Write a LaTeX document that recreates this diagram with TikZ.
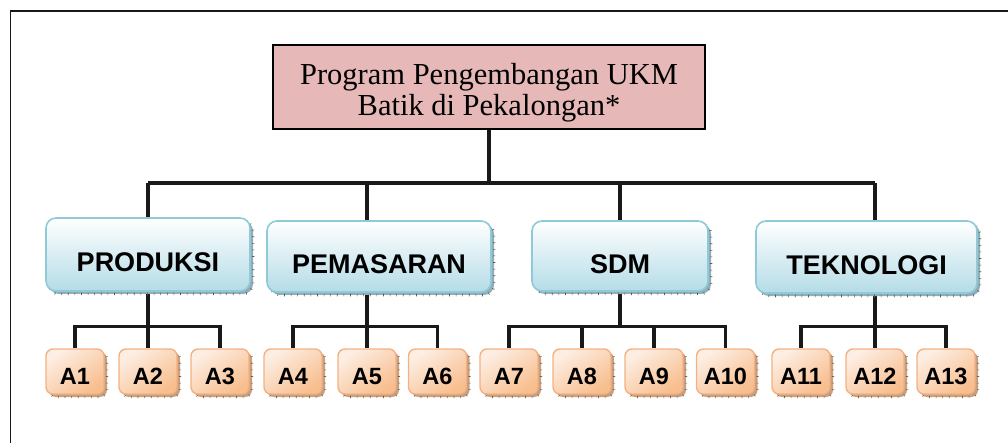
\documentclass[tikz,border=0pt]{standalone}
\usepackage{fontspec}
\setmainfont{Liberation Serif}
\setsansfont{Liberation Sans}
\usetikzlibrary{shadows,backgrounds}

\definecolor{headfill}{HTML}{E6B9B8}
\definecolor{bluebd}{HTML}{8FCAD9}
\definecolor{bluebot}{HTML}{B4DCE7}
\definecolor{blueshd}{HTML}{93ACB5}
\definecolor{orabd}{HTML}{F3B184}
\definecolor{oratop}{HTML}{FDEEE3}
\definecolor{orabot}{HTML}{F8BE8E}
\definecolor{orashd}{HTML}{C9A07E}

\tikzset{
  headbox/.style={draw=black, line width=1.8pt, fill=headfill, inner sep=0pt,
    minimum width=432pt, minimum height=84pt, align=center,
    font=\fontsize{30.5}{31}\selectfont},
  catbox/.style={rounded corners=10pt, draw=bluebd, line width=1.6pt,
    top color=white, bottom color=bluebot, inner sep=0pt,
    text height=35pt, text depth=0pt,
    general shadow={shadow xshift=3pt, shadow yshift=-3pt, fill=blueshd},
    general shadow={shadow xshift=3pt, shadow yshift=-3pt, draw=blueshd!55!black,
      line width=2.5pt, dash pattern=on 0.6pt off 6pt},
    font=\sffamily\bfseries\fontsize{27}{27}\selectfont},
  itembox/.style={rounded corners=7pt, draw=orabd, line width=1.4pt,
    top color=oratop, bottom color=orabot, shading angle=35, inner sep=0pt,
    minimum width=58pt, minimum height=45pt, text height=25pt, text depth=0pt,
    general shadow={shadow xshift=3pt, shadow yshift=-3pt, fill=orashd},
    general shadow={shadow xshift=3pt, shadow yshift=-3pt, draw=orashd!60!black,
      line width=2.2pt, dash pattern=on 0.6pt off 6pt},
    font=\sffamily\bfseries\fontsize{23.5}{23.5}\selectfont},
  conn/.style={draw=black!90, line width=3.2pt}
}

\begin{document}
\begin{tikzpicture}[x=1pt,y=-1pt]
\useasboundingbox (0,0) rectangle (1008,443);

% outer frame (only the top and left edges fall inside the page)
\draw[line width=1.8pt, black!90] (10.5,443) -- (10.5,11) -- (1008,11);

% root
\node[headbox] (top) at (489,87) {\rule{0pt}{33pt}Program Pengembangan UKM\\Batik di Pekalongan*};

% categories
\node[catbox, minimum width=204pt, minimum height=73pt] (prod) at (148,254.5) {PRODUKSI};
\node[catbox, minimum width=224pt, minimum height=71pt] (pem)  at (379,256.5) {PEMASARAN};
\node[catbox, minimum width=176pt, minimum height=70pt] (sdm)  at (620,256)   {SDM};
\node[catbox, minimum width=221pt, minimum height=72pt] (tek)  at (866.5,257) {TEKNOLOGI};

% programme items
\foreach \n/\x in {1/75,2/148,3/220,4/293,5/367,6/437.5,7/509,8/582,9/654,10/725.5,11/801,12/875,13/946}
  \node[itembox] (a\n) at (\x,371.5) {A\n};

% bus levels
\coordinate (bus) at (489,183);
\coordinate (kb) at (0,326.5);

\begin{scope}[on background layer]
  % root to categories
  \draw[conn] (top.south) -- (top.south |- bus);
  \draw[conn] (a2.north |- bus) -- (a12.north |- bus);
  \draw[conn] (a2.north |- bus) -- (a2.north |- prod.north);
  \draw[conn] (a5.north |- bus) -- (a5.north |- pem.north);
  \draw[conn] (sdm.north |- bus) -- (sdm.north);
  \draw[conn] (a12.north |- bus) -- (a12.north |- tek.north);

  % PRODUKSI
  \draw[conn] (a1.north) |- (a3.north |- kb) -- (a3.north);
  \draw[conn] (a2.north |- prod.south) -- (a2.north);
  % PEMASARAN
  \draw[conn] (a4.north) |- (a6.north |- kb) -- (a6.north);
  \draw[conn] (a5.north |- pem.south) -- (a5.north);
  % SDM
  \draw[conn] (a7.north) |- (a10.north |- kb) -- (a10.north);
  \draw[conn] (sdm.south) -- (sdm.south |- kb);
  \draw[conn] (a8.north |- kb) -- (a8.north);
  \draw[conn] (a9.north |- kb) -- (a9.north);
  % TEKNOLOGI
  \draw[conn] (a11.north) |- (a13.north |- kb) -- (a13.north);
  \draw[conn] (a12.north |- tek.south) -- (a12.north);
\end{scope}
\end{tikzpicture}
\end{document}
